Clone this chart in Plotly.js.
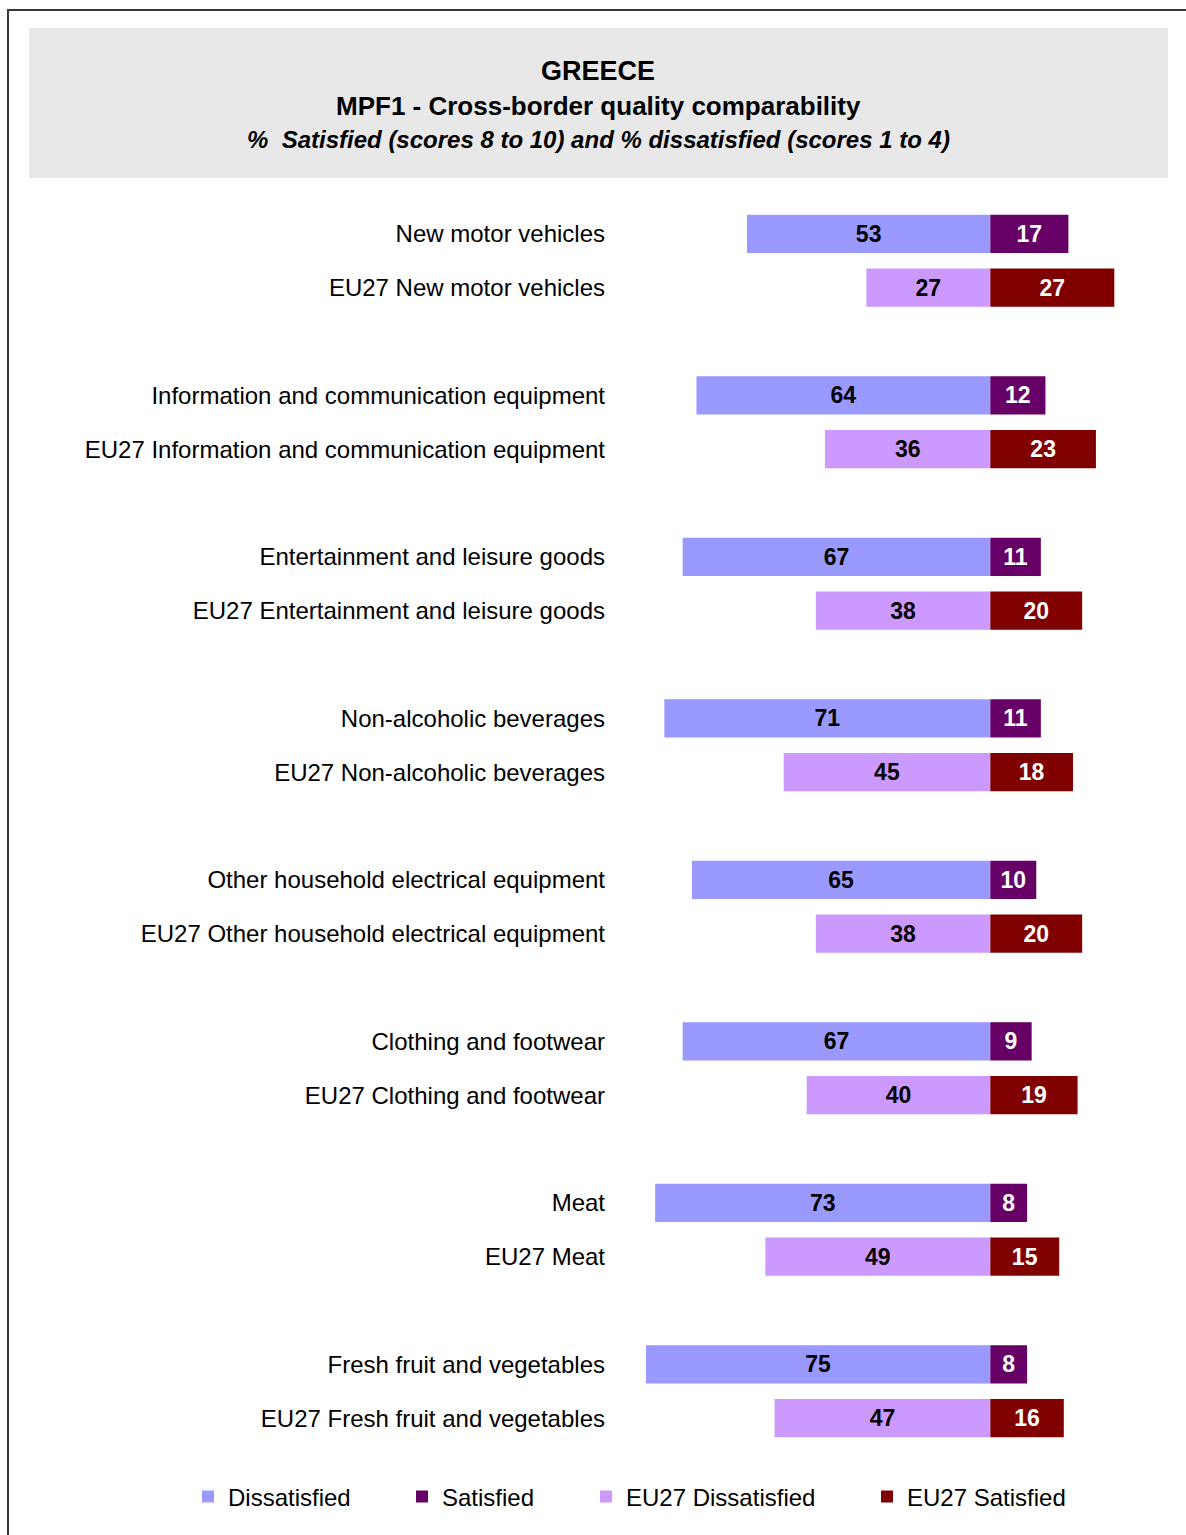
<!DOCTYPE html>
<html>
<head>
<meta charset="utf-8">
<script src="https://cdn.plot.ly/plotly-3.0.1.min.js"></script>
<style>html,body{margin:0;padding:0;background:#fff;}#chart{width:1186px;height:1535px;}</style>
</head>
<body>
<div id="chart"></div>
<script>
// ---- data ----
const categories = [
  "New motor vehicles",
  "Information and communication equipment",
  "Entertainment and leisure goods",
  "Non-alcoholic beverages",
  "Other household electrical equipment",
  "Clothing and footwear",
  "Meat",
  "Fresh fruit and vegetables"
];
const dissatisfied     = [53, 64, 67, 71, 65, 67, 73, 75];
const satisfied        = [17, 12, 11, 11, 10,  9,  8,  8];
const eu27Dissatisfied = [27, 36, 38, 45, 38, 40, 49, 47];
const eu27Satisfied    = [27, 23, 20, 18, 20, 19, 15, 16];
const seriesNames = ["Dissatisfied", "Satisfied", "EU27 Dissatisfied", "EU27 Satisfied"];

// ---- layout helpers ----
const FONT = "Liberation Sans, Arial, Helvetica, sans-serif";
const posMain = categories.map((c, i) => 3 * i);
const posEU = categories.map((c, i) => 3 * i + 1);
const tickvals = [];
const ticktext = [];
categories.forEach((c, i) => {
  tickvals.push(3 * i, 3 * i + 1);
  ticktext.push(c, "EU27 " + c);
});

const BW = 0.71;
function barTrace(name, vals, pos, negative, color, txtColor, legendId) {
  return {
    type: "bar",
    orientation: "h",
    name: name,
    x: vals.map(v => negative ? -v : v),
    y: pos,
    width: BW,
    marker: { color: color, line: { width: 0 } },
    text: vals.map(v => String(v)),
    textposition: "inside",
    insidetextanchor: "middle",
    textangle: 0,
    constraintext: "none",
    textfont: { family: FONT, size: 23, color: txtColor, weight: "bold" },
    hoverinfo: "name+text",
    legend: legendId
  };
}

const traces = [
  barTrace(seriesNames[0], dissatisfied, posMain, true, "#9999FF", "#000000", "legend"),
  barTrace(seriesNames[1], satisfied, posMain, false, "#660066", "#FFFFFF", "legend2"),
  barTrace(seriesNames[2], eu27Dissatisfied, posEU, true, "#CC99FF", "#000000", "legend3"),
  barTrace(seriesNames[3], eu27Satisfied, posEU, false, "#800000", "#FFFFFF", "legend4")
];

// plot area: left 623, width 551, top 180, height 1292
const L = 623, W = 551, T = 180, H = 1292, FH = 1535;
const px = X => (X - L) / W;
const py = Y => (T + H - Y) / H;

function legendAt(xPix) {
  return {
    orientation: "h",
    x: px(xPix), xanchor: "left",
    y: py(1497), yanchor: "middle",
    bgcolor: "rgba(0,0,0,0)",
    borderwidth: 0,
    font: { family: FONT, size: 24, color: "#000" },
    itemclick: false, itemdoubleclick: false
  };
}

const layout = {
  width: 1186, height: FH,
  margin: { l: L, r: 1186 - L - W, t: T, b: FH - T - H, pad: 0 },
  paper_bgcolor: "#ffffff",
  plot_bgcolor: "rgba(0,0,0,0)",
  barmode: "overlay",
  showlegend: true,
  font: { family: FONT, size: 24, color: "#000" },
  xaxis: {
    range: [-80, 40],
    showgrid: false, zeroline: false, showline: false,
    showticklabels: false, ticks: "", fixedrange: true
  },
  yaxis: {
    range: [23, -1],
    tickmode: "array",
    tickvals: tickvals,
    ticktext: ticktext,
    showgrid: false, zeroline: false, showline: false,
    ticks: "",
    ticklabelstandoff: 17,
    tickfont: { family: FONT, size: 24, color: "#000" },
    fixedrange: true
  },
  legend: legendAt(188),
  legend2: legendAt(402),
  legend3: legendAt(586),
  legend4: legendAt(867),
  shapes: [
    { type: "rect", xref: "paper", yref: "paper",
      x0: px(8), x1: px(1200), y0: py(1600), y1: py(10),
      line: { color: "#3a3a3a", width: 2 }, fillcolor: "rgba(0,0,0,0)", layer: "below" },
    { type: "rect", xref: "paper", yref: "paper",
      x0: px(29), x1: px(1168), y0: py(178), y1: py(28),
      line: { width: 0 }, fillcolor: "#E8E8E8", layer: "below" }
  ],
  annotations: [
    { xref: "paper", yref: "paper", x: px(598), y: py(71), xanchor: "center", yanchor: "middle",
      showarrow: false, text: "<b>GREECE</b>", font: { family: FONT, size: 27, color: "#000" } },
    { xref: "paper", yref: "paper", x: px(598), y: py(106), xanchor: "center", yanchor: "middle",
      showarrow: false, text: "<b>MPF1 - Cross-border quality comparability</b>", font: { family: FONT, size: 26, color: "#000" } },
    { xref: "paper", yref: "paper", x: px(598), y: py(139), xanchor: "center", yanchor: "middle",
      showarrow: false, text: "<b><i>%  Satisfied (scores 8 to 10) and % dissatisfied (scores 1 to 4)</i></b>", font: { family: FONT, size: 24, color: "#000" } }
  ]
};

Plotly.newPlot("chart", traces, layout, { displayModeBar: false, staticPlot: true });
</script>
</body>
</html>
